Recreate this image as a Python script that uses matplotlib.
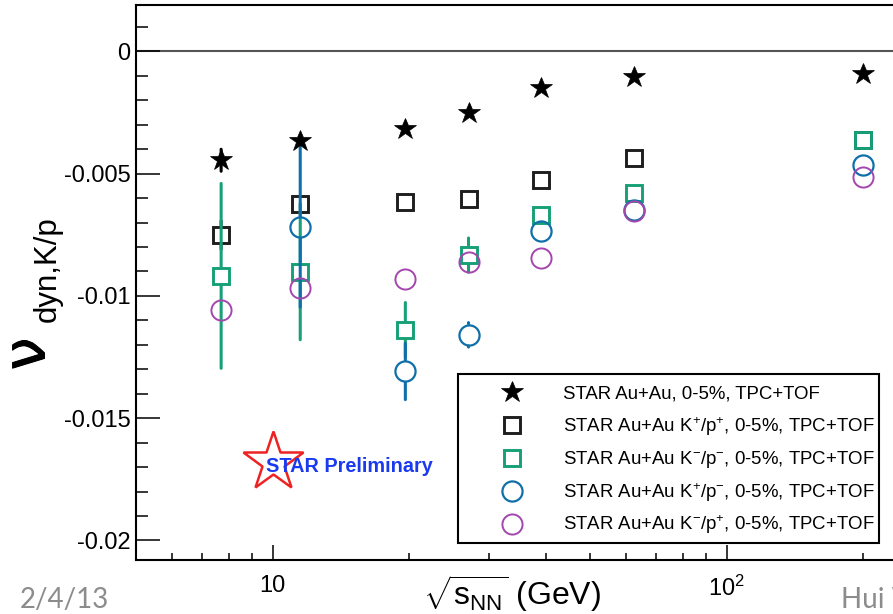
import numpy as np
import matplotlib
matplotlib.use("Agg")
import matplotlib.pyplot as plt
import matplotlib.patheffects as pe
from matplotlib.lines import Line2D
from matplotlib.patches import Rectangle

plt.rcParams['font.family'] = ['Liberation Sans', 'DejaVu Sans']
plt.rcParams['mathtext.fontset'] = 'custom'
plt.rcParams['mathtext.rm'] = 'Liberation Sans'
plt.rcParams['mathtext.it'] = 'Liberation Sans:italic'
plt.rcParams['mathtext.bf'] = 'Liberation Sans:bold'

# Collision energies (GeV)
energy = [7.7, 11.5, 19.6, 27, 39, 62.4, 200]

# nu_dyn for all K/p combined
nu_all = [-0.00445, -0.00366, -0.00318, -0.00250, -0.00148, -0.00106, -0.00091]
nu_all_err = [0.00045, 0.0002, 0.0001, 0.0001, 0.0001, 0.0001, 0.0001]
# K+/p+
nu_kp_pp = [-0.00751, -0.00622, -0.00615, -0.00604, -0.00527, -0.00435, -0.00363]
nu_kp_pp_err = [0.00058, 0.0003, 0.0002, 0.0002, 0.0001, 0.0001, 0.0001]
# K-/p-
nu_km_pm = [-0.00918, -0.00901, -0.01139, -0.00833, -0.00669, -0.00578, -0.00363]
nu_km_pm_err = [0.00378, 0.00278, 0.00112, 0.00070, 0.0003, 0.0002, 0.0001]
# K+/p-
nu_kp_pm = [np.nan, -0.00720, -0.01309, -0.01159, -0.00733, -0.00649, -0.00465]
nu_kp_pm_err = [np.nan, 0.00326, 0.00115, 0.00050, 0.0003, 0.0002, 0.0001]
# K-/p+
nu_km_pp = [-0.01057, -0.00969, -0.00931, -0.00863, -0.00846, -0.00652, -0.00513]
nu_km_pp_err = [0.0003, 0.0003, 0.0002, 0.0002, 0.0001, 0.0001, 0.0001]

labels = [
    'STAR Au+Au, 0-5%, TPC+TOF',
    r'STAR Au+Au K$^{+}$/p$^{+}$, 0-5%, TPC+TOF',
    r'STAR Au+Au K$^{-}$/p$^{-}$, 0-5%, TPC+TOF',
    r'STAR Au+Au K$^{+}$/p$^{-}$, 0-5%, TPC+TOF',
    r'STAR Au+Au K$^{-}$/p$^{+}$, 0-5%, TPC+TOF',
]

W, H = 893, 614
fig = plt.figure(figsize=(W / 100, H / 100), dpi=100)


def fx(px):
    return px / W


def fy(py):
    return 1 - py / H


xmin, xmax = 5.0, 300.0
ymin, ymax = -0.0208, 0.0019
px_per_decade = 454.0
ax_left, ax_top, ax_bottom = 136, 5, 560
ax_w = (np.log10(xmax) - np.log10(xmin)) * px_per_decade
ax = fig.add_axes([fx(ax_left), fy(ax_bottom), ax_w / W, (ax_bottom - ax_top) / H])
ax.set_xscale('log')
ax.set_xlim(xmin, xmax)
ax.set_ylim(ymin, ymax)

ax.axhline(0, color='#555555', lw=1.5, zorder=1)

series = [
    (nu_all, nu_all_err, dict(marker='*', ms=16.5, mfc='black', mec='black', mew=0.5), 'black', 0),
    (nu_kp_pp, nu_kp_pp_err, dict(marker='s', ms=12.0, mfc='none', mec='#1e1e1e', mew=2.1), '#1e1e1e', 6.8),
    (nu_km_pm, nu_km_pm_err, dict(marker='s', ms=12.0, mfc='none', mec='#17a077', mew=2.1), '#17a077', 6.8),
    (nu_kp_pm, nu_kp_pm_err, dict(marker='o', ms=14.5, mfc='none', mec='#0f6fa8', mew=1.6), '#0f6fa8', 8.0),
    (nu_km_pp, nu_km_pp_err, dict(marker='o', ms=14.5, mfc='none', mec='#a346ad', mew=1.4), '#a346ad', 8.0),
]

fig.canvas.draw()
pt_per_px = 72.0 / fig.dpi
for i, (vals, errs, style, col, gap) in enumerate(series):
    z = 3 + i
    # vertical error bars that stop at the marker outline
    for xv, yv, ev in zip(energy, vals, errs):
        if np.isnan(yv) or np.isnan(ev):
            continue
        y0 = ax.transData.transform((xv, yv))[1]
        for sgn in (1, -1):
            y1 = ax.transData.transform((xv, yv + sgn * ev))[1]
            if abs(y1 - y0) * pt_per_px <= gap + 0.5:
                continue
            ax.annotate('', xy=(xv, yv + sgn * ev), xytext=(xv, yv),
                        arrowprops=dict(arrowstyle='-', color=col, lw=2.2,
                                        shrinkA=gap, shrinkB=0),
                        zorder=z)
    ax.plot(energy, vals, linestyle='none', zorder=z + 0.5, **style)

# axes styling
for side in ('left', 'bottom', 'top'):
    ax.spines[side].set_linewidth(1.5)
ax.set_xticks([10, 100])
ax.set_xticklabels(['10', r'$10^{2}$'])
ax.set_xticks([6, 7, 8, 9, 20, 30, 40, 50, 60, 70, 80, 90, 200, 300], minor=True)
ax.set_xticklabels([], minor=True)
ax.set_yticks([-0.02, -0.015, -0.01, -0.005, 0])
ax.set_yticklabels(['-0.02', '-0.015', '-0.01', '-0.005', '0'])
ax.set_yticks(np.arange(-20, 2) * 0.001, minor=True)
ax.tick_params(axis='y', which='major', direction='in', length=17, width=1.1,
               labelsize=17, pad=4)
ax.tick_params(axis='y', which='minor', direction='in', length=8.6, width=1.1)
ax.tick_params(axis='x', which='major', direction='in', length=10.8, width=1.1,
               labelsize=17, pad=11)
ax.tick_params(axis='x', which='minor', direction='in', length=5.4, width=1.1)

# axis titles
ax.set_xlabel(r'$\sqrt{\mathrm{s}_{\mathrm{NN}}}$ (GeV)', fontsize=23)
ax.xaxis.set_label_coords((512 - ax_left) / ax_w, -(573 - ax_bottom) / (ax_bottom - ax_top))
fig.text(fx(28), fy(354), '\u03bd', fontsize=42, rotation=90,
         ha='center', va='center', family=['DejaVu Sans'],
         path_effects=[pe.withStroke(linewidth=0.7, foreground='black')])
fig.text(fx(48), fy(269), 'dyn,K/p', fontsize=22.5, rotation=90,
         ha='center', va='center')

# legend box with one marker and label per series
box_l, box_t, box_r, box_b = 458, 374, 879, 543
fig.add_artist(Rectangle((fx(box_l), fy(box_b)), (box_r - box_l) / W, (box_b - box_t) / H,
                         transform=fig.transFigure, facecolor='white', edgecolor='black',
                         lw=1.5, zorder=10))
row_y = [392, 425, 458, 491, 524]
for (vals, errs, style, col, gap), lab, ry in zip(series, labels, row_y):
    fig.add_artist(Line2D([fx(512)], [fy(ry)], linestyle='none', transform=fig.transFigure,
                          zorder=11, **style))
    fig.text(fx(563), fy(ry + 6.5), lab, fontsize=13.4, ha='left', va='baseline',
             zorder=11)

# STAR Preliminary badge
fig.add_artist(Line2D([fx(273)], [fy(462)], marker='*', ms=45, mfc='white',
                      mec='#ee2222', mew=1.8, linestyle='none',
                      transform=fig.transFigure))
fig.text(fx(266), fy(467), 'STAR Preliminary', fontsize=14.3, fontweight='bold',
         color='#1a3af0', ha='left', va='center')

# slide footer
fig.text(fx(20), fy(600), '2/4/13', fontsize=20, color='#8c8c8c',
         family=['Lato', 'DejaVu Sans'], ha='left', va='center')
fig.text(fx(841), fy(600), 'Hui Wang', fontsize=20, color='#8c8c8c',
         family=['Lato', 'DejaVu Sans'], ha='left', va='center')

fig.savefig('out.png', dpi=100)
